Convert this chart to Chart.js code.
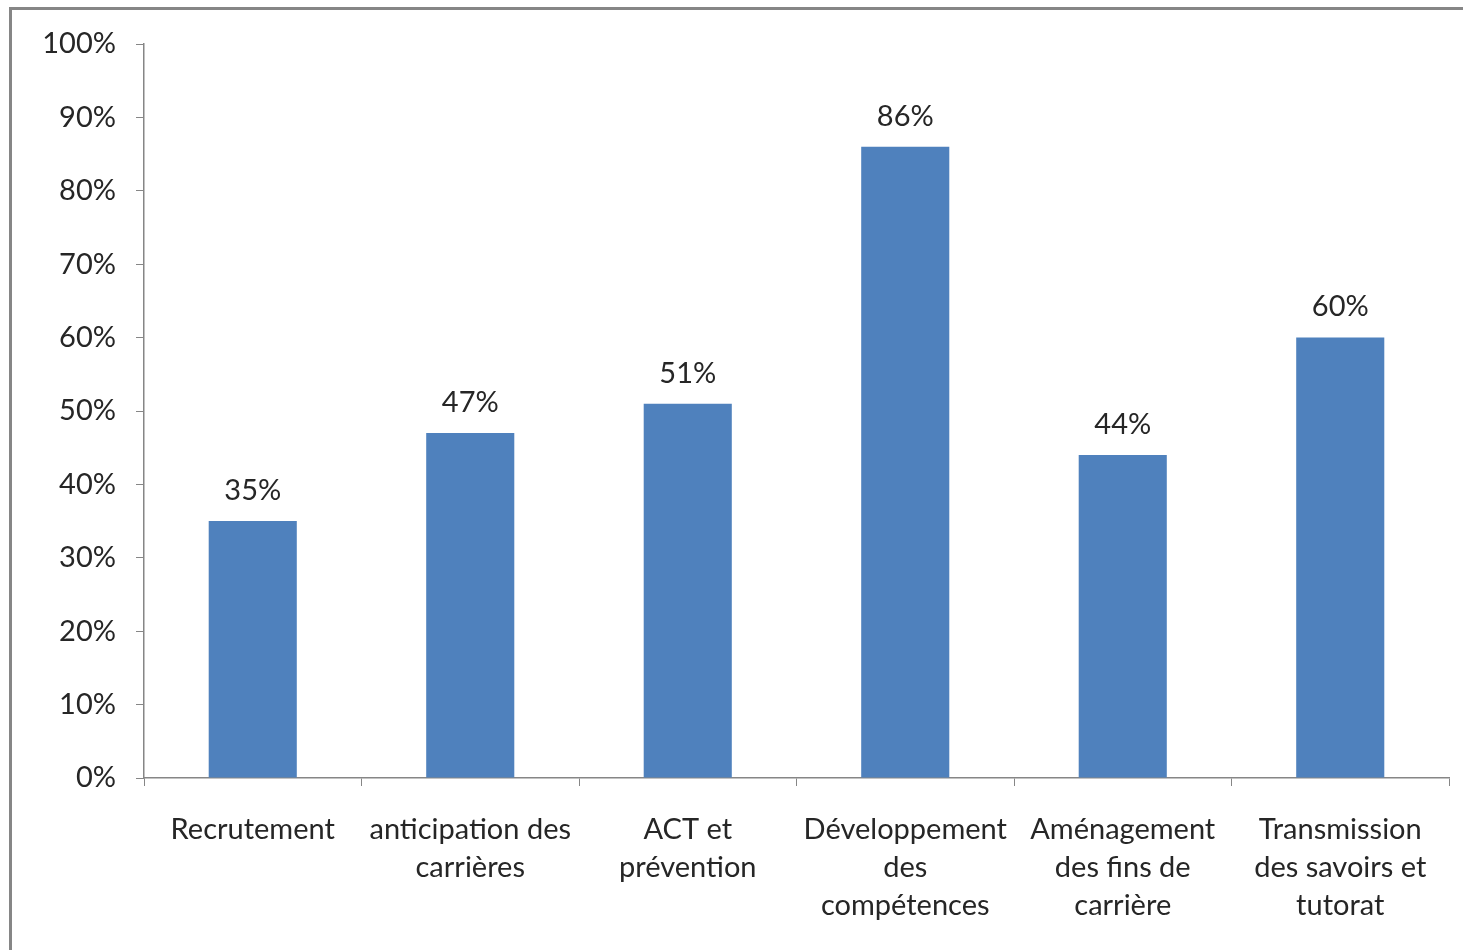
<!DOCTYPE html>
<html>
<head>
<meta charset="utf-8">
<script src="https://cdn.jsdelivr.net/npm/chart.js@4.4.1/dist/chart.umd.min.js"></script>
<style>
  html, body { margin: 0; padding: 0; background: #fff; overflow: hidden; }
  #frame {
    position: absolute; left: 9px; top: 7px; width: 2000px; height: 2000px;
    border: 3px solid #868686; box-sizing: border-box;
  }
  #wrap { position: absolute; left: 0; top: 0; width: 1463px; height: 950px; }
</style>
</head>
<body>
<div id="frame"></div>
<div id="wrap"><canvas id="chart"></canvas></div>
<script>
const categories = [
  "Recrutement",
  ["anticipation des", "carrières"],
  ["ACT et", "prévention"],
  ["Développement", "des", "compétences"],
  ["Aménagement", "des fins de", "carrière"],
  ["Transmission", "des savoirs et", "tutorat"]
];
const values = [35, 47, 51, 86, 44, 60];
const yTicks = [0, 10, 20, 30, 40, 50, 60, 70, 80, 90, 100];

const fontFamily = "Lato, 'Open Sans', sans-serif";
const textColor = "#262626";
const axisColor = "#868686";

const valueLabels = {
  id: "valueLabels",
  afterDatasetsDraw(chart) {
    const ctx = chart.ctx;
    const meta = chart.getDatasetMeta(0);
    ctx.save();
    ctx.font = "29px " + fontFamily;
    ctx.fillStyle = textColor;
    ctx.textAlign = "center";
    ctx.textBaseline = "bottom";
    meta.data.forEach((bar, i) => {
      ctx.fillText(values[i] + "%", bar.x, bar.y - 16);
    });
    ctx.restore();
  }
};

new Chart(document.getElementById("chart"), {
  type: "bar",
  data: {
    labels: categories,
    datasets: [{
      data: values,
      backgroundColor: "#4f81bd",
      borderWidth: 0,
      categoryPercentage: 1,
      barPercentage: 0.405
    }]
  },
  options: {
    responsive: true,
    maintainAspectRatio: false,
    animation: false,
    layout: { padding: { top: 44, right: 14, bottom: 0, left: 0 } },
    plugins: { legend: { display: false }, tooltip: { enabled: false } },
    scales: {
      x: {
        afterFit: scale => { scale.height = 172; },
        grid: {
          offset: true,
          drawOnChartArea: false,
          tickLength: 8,
          color: axisColor
        },
        border: { color: axisColor, width: 1.5 },
        ticks: {
          color: textColor,
          font: { family: fontFamily, size: 29, lineHeight: 1.31 },
          padding: 25,
          maxRotation: 0,
          autoSkip: false
        }
      },
      y: {
        min: 0,
        max: 100,
        afterFit: scale => { scale.width = 144; },
        afterBuildTicks: scale => { scale.ticks = yTicks.map(v => ({ value: v })); },
        grid: {
          drawOnChartArea: false,
          tickLength: 8,
          color: axisColor
        },
        border: { color: axisColor, width: 1.5 },
        ticks: {
          color: textColor,
          font: { family: fontFamily, size: 29 },
          padding: 20,
          callback: value => value + "%"
        }
      }
    }
  },
  plugins: [valueLabels]
});
</script>
</body>
</html>
